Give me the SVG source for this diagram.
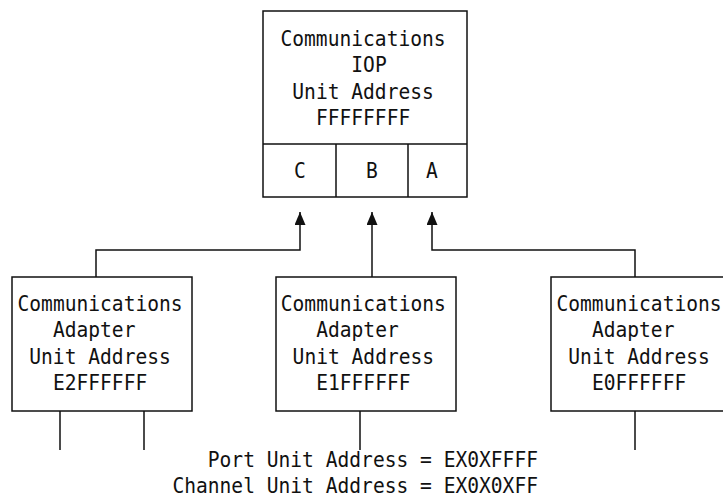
<svg xmlns="http://www.w3.org/2000/svg" width="723" height="502" viewBox="0 0 723 502">
<style>
.box{fill:#fff;stroke:#111;stroke-width:1.5}
.ln{fill:none;stroke:#111;stroke-width:1.5}
text{font-family:"DejaVu Sans Mono","Liberation Mono",monospace;font-size:19.6px;fill:#111}
.c{text-anchor:middle}
.e{text-anchor:end}
</style>
<defs>
<marker id="ah" markerUnits="userSpaceOnUse" markerWidth="13" markerHeight="11" viewBox="0 0 13 11" refX="13" refY="5.5" orient="auto">
<path d="M0,0 L13,5.5 L0,11 z" fill="#111"/>
</marker>
</defs>
<rect width="723" height="502" fill="#fff"/>
<g id="connectors">
<path class="ln" d="M96,277 V250 H300 V212" marker-end="url(#ah)"/>
<path class="ln" d="M372,277 V212" marker-end="url(#ah)"/>
<path class="ln" d="M635,277 V250 H432 V212" marker-end="url(#ah)"/>
<path class="ln" d="M60,411 V450 M144,411 V450 M360,411 V450 M635,411 V450"/>
</g>
<g id="iop">
<rect class="box" x="263" y="11" width="204" height="186"/>
<path class="ln" d="M263,144 H467 M336,144 V197 M408,144 V197"/>
<g transform="scale(1,1.12)">
<text x="280.5" y="41.07">Communications</text>
<text x="351.3" y="64.73">IOP</text>
<text x="292.3" y="88.39">Unit Address</text>
<text x="315.9" y="112.05">FFFFFFFF</text>
<text class="c" x="300" y="158.93">C</text>
<text class="c" x="372" y="158.93">B</text>
<text class="c" x="432" y="158.93">A</text>
</g>
</g>
<g id="adapter-e2">
<rect class="box" x="12" y="277" width="180" height="134"/>
<g transform="scale(1,1.12)">
<text x="17.5" y="277.68">Communications</text>
<text x="52.9" y="301.34">Adapter</text>
<text x="29.3" y="325">Unit Address</text>
<text x="52.9" y="348.66">E2FFFFFF</text>
</g>
</g>
<g id="adapter-e1">
<rect class="box" x="276" y="277" width="180" height="134"/>
<g transform="scale(1,1.12)">
<text x="280.8" y="277.68">Communications</text>
<text x="316.2" y="301.34">Adapter</text>
<text x="292.6" y="325">Unit Address</text>
<text x="316.2" y="348.66">E1FFFFFF</text>
</g>
</g>
<g id="adapter-e0">
<rect class="box" x="551" y="277" width="190" height="134"/>
<g transform="scale(1,1.12)">
<text x="556.5" y="277.68">Communications</text>
<text x="591.9" y="301.34">Adapter</text>
<text x="568.3" y="325">Unit Address</text>
<text x="591.9" y="348.66">E0FFFFFF</text>
</g>
</g>
<g id="note">
<g transform="scale(1,1.12)">
<text class="e" x="538" y="416.96">Port Unit Address = EX0XFFFF</text>
<text class="e" x="538" y="440.18">Channel Unit Address = EX0X0XFF</text>
</g>
</g>
</svg>
